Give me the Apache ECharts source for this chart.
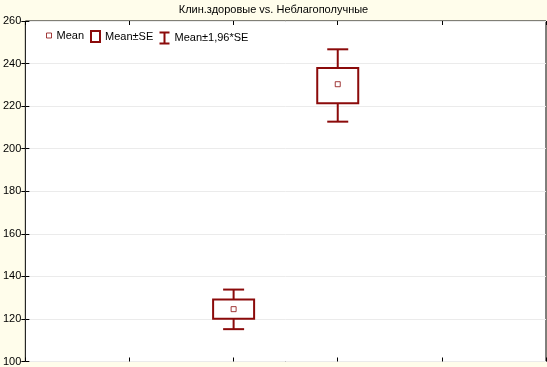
<!DOCTYPE html>
<html>
<head>
<meta charset="utf-8">
<script src="https://cdn.jsdelivr.net/npm/echarts@6/dist/echarts.min.js"></script>
<style>
  html, body { margin: 0; padding: 0; background: #fffdeb; }
  #main { width: 547px; height: 367px; }
</style>
</head>
<body>
<div id="main"></div>
<script>
// группы на оси X (позиции 2 и 3 из 0..5)
var groupPos = [2, 3];
var groupNames = ["Клин.здоровые", "Неблагополучные"];
// средние
var means = [124.6, 230.3];
// Mean ± SE
var seLow = [120.1, 221.4];
var seHigh = [129.1, 237.9];
// Mean ± 1,96*SE
var ciLow = [115.2, 212.7];
var ciHigh = [133.8, 246.7];
// подписи оси Y
var yTicks = [100, 120, 140, 160, 180, 200, 220, 240, 260];

var red = "#8b0a0a";
var font = "Arial";

var chart = echarts.init(document.getElementById("main"));

var boxData = groupPos.map(function (x, i) { return [x, seLow[i], seHigh[i]]; });
var whiskerData = groupPos.map(function (x, i) { return [x, ciLow[i], ciHigh[i], seLow[i], seHigh[i]]; });
var meanData = groupPos.map(function (x, i) { return [x, means[i]]; });

var legendText = { fontFamily: font, fontSize: 11, color: "#000" };

var option = {
  backgroundColor: "#fffdeb",
  animation: false,
  title: {
    text: "Клин.здоровые vs. Неблагополучные",
    left: "center",
    top: 4,
    padding: 0,
    textStyle: { fontFamily: font, fontSize: 11, fontWeight: "normal", color: "#000" }
  },
  legend: [
    {
      data: [{ name: "Mean", icon: "rect", itemStyle: { color: "#fff", borderColor: red, borderWidth: 1 } }],
      left: 46, top: 30, padding: 0, itemWidth: 5, itemHeight: 5,
      textStyle: legendText
    },
    {
      data: [{ name: "Mean±SE", icon: "rect", itemStyle: { color: "#fff", borderColor: red, borderWidth: 2 } }],
      left: 90, top: 30, padding: 0, itemWidth: 9, itemHeight: 11,
      textStyle: legendText
    },
    {
      data: [{ name: "Mean±1,96*SE", icon: "path://M0,0H10M5,0V11M0,11H10", itemStyle: { color: "none", borderColor: red, borderWidth: 2 } }],
      left: 157, top: 30, padding: 0, itemWidth: 10, itemHeight: 11,
      textStyle: legendText
    }
  ],
  grid: {
    left: 24, right: 1, top: 21, bottom: 5,
    show: true, backgroundColor: "#fff", borderColor: "#000", borderWidth: 1
  },
  xAxis: [
    {
      type: "value", min: 0, max: 5, interval: 1, position: "bottom",
      axisLine: { show: false },
      axisTick: { show: true, inside: true, length: 4, lineStyle: { color: "#000" } },
      axisLabel: { show: false },
      splitLine: { show: false }
    },
    {
      type: "value", min: 0, max: 5, interval: 1, position: "top",
      axisLine: { show: false },
      axisTick: { show: true, inside: true, length: 4, lineStyle: { color: "#000" } },
      axisLabel: { show: false },
      splitLine: { show: false }
    }
  ],
  yAxis: [
    {
      type: "value", min: yTicks[0], max: yTicks[yTicks.length - 1], interval: 20, position: "left",
      axisLine: { show: false },
      axisTick: { show: true, inside: true, length: 4, lineStyle: { color: "#000" } },
      axisLabel: { margin: 4, color: "#000", fontFamily: font, fontSize: 11 },
      splitLine: { show: true, lineStyle: { color: "#ebebeb", width: 1 } }
    },
    {
      type: "value", min: yTicks[0], max: yTicks[yTicks.length - 1], interval: 20, position: "right",
      axisLine: { show: false },
      axisTick: { show: true, inside: true, length: 4, lineStyle: { color: "#000" } },
      axisLabel: { show: false },
      splitLine: { show: false }
    }
  ],
  series: [
    {
      name: "Mean±1,96*SE",
      type: "custom",
      data: whiskerData,
      z: 2,
      renderItem: function (params, api) {
        var x = api.value(0);
        var lo = api.coord([x, api.value(1)]);
        var hi = api.coord([x, api.value(2)]);
        var bLo = api.coord([x, api.value(3)]);
        var bHi = api.coord([x, api.value(4)]);
        var half = 10.5;
        var st = { stroke: red, lineWidth: 2 };
        return {
          type: "group",
          children: [
            { type: "line", shape: { x1: hi[0], y1: hi[1], x2: bHi[0], y2: bHi[1] }, style: st },
            { type: "line", shape: { x1: lo[0], y1: lo[1], x2: bLo[0], y2: bLo[1] }, style: st },
            { type: "line", shape: { x1: hi[0] - half, y1: hi[1], x2: hi[0] + half, y2: hi[1] }, style: st },
            { type: "line", shape: { x1: lo[0] - half, y1: lo[1], x2: lo[0] + half, y2: lo[1] }, style: st }
          ]
        };
      }
    },
    {
      name: "Mean±SE",
      type: "custom",
      data: boxData,
      z: 3,
      renderItem: function (params, api) {
        var x = api.value(0);
        var lo = api.coord([x, api.value(1)]);
        var hi = api.coord([x, api.value(2)]);
        var w = 41;
        return {
          type: "rect",
          shape: { x: lo[0] - w / 2, y: hi[1], width: w, height: lo[1] - hi[1] },
          style: { fill: "#fff", stroke: red, lineWidth: 2 }
        };
      }
    },
    {
      name: "Mean",
      type: "scatter",
      data: meanData,
      symbol: "rect",
      symbolSize: 5,
      z: 4,
      itemStyle: { color: "#fff", borderColor: red, borderWidth: 1 }
    }
  ]
};

chart.setOption(option);
</script>
</body>
</html>
